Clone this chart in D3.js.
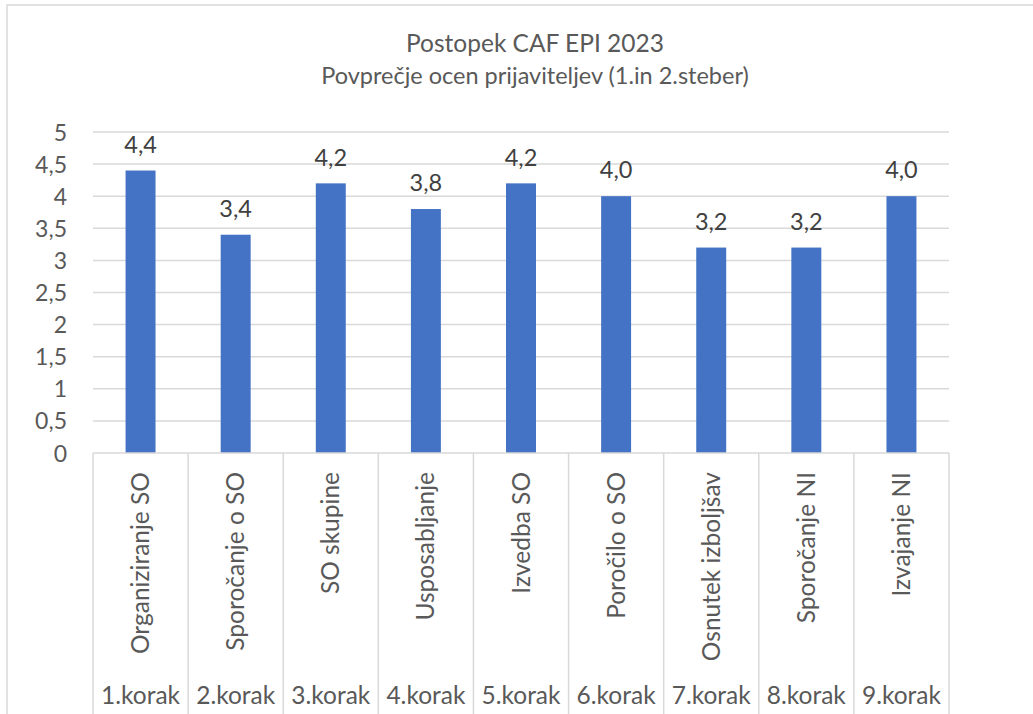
<!DOCTYPE html>
<html>
<head>
<meta charset="utf-8">
<script src="https://cdn.jsdelivr.net/npm/d3@7"></script>
<style>
  html, body { margin: 0; padding: 0; background: #fff; }
  svg { display: block; }
  text { font-family: Lato, "Open Sans", sans-serif; }
</style>
</head>
<body>
<svg id="chart" width="1033" height="714"></svg>
<script>
const titleLines = ["Postopek CAF EPI 2023", "Povprečje ocen prijaviteljev (1.in 2.steber)"];
const categories = ["Organiziranje SO", "Sporočanje o SO", "SO skupine", "Usposabljanje", "Izvedba SO", "Poročilo o SO", "Osnutek izboljšav", "Sporočanje NI", "Izvajanje NI"];
const steps = ["1.korak", "2.korak", "3.korak", "4.korak", "5.korak", "6.korak", "7.korak", "8.korak", "9.korak"];
const values = [4.4, 3.4, 4.2, 3.8, 4.2, 4.0, 3.2, 3.2, 4.0];
const yTicks = [0, 0.5, 1, 1.5, 2, 2.5, 3, 3.5, 4, 4.5, 5];

(function () {
const svg = d3.select("#chart");
const pLeft = 93, pRight = 949, pTop = 132, pBottom = 453;
const grid = "#d9d9d9";
const fmtTick = d => String(d).replace(".", ",");
const fmtVal = d => d3.format(".1f")(d).replace(".", ",");

// outer chart border
svg.append("rect").attr("x", 7).attr("y", 5).attr("width", 1200).attr("height", 800)
  .attr("fill", "none").attr("stroke", grid).attr("stroke-width", 1.5);

const x = d3.scaleBand().domain(categories).range([pLeft, pRight]).paddingInner(0.685).paddingOuter(0.3425);
const xCell = d3.scaleBand().domain(categories).range([pLeft, pRight]).padding(0);
const y = d3.scaleLinear().domain([0, 5]).range([pBottom, pTop]);

// title
svg.append("g").selectAll("text").data(titleLines).join("text")
  .attr("x", 535).attr("y", (d, i) => 52 + i * 32)
  .attr("text-anchor", "middle").attr("fill", "#595959").attr("font-size", (d, i) => i === 0 ? 24.5 : 23.5)
  .text(d => d);

// gridlines
svg.append("g").selectAll("line").data(yTicks.filter(d => d > 0)).join("line")
  .attr("x1", pLeft).attr("x2", pRight).attr("y1", d => y(d)).attr("y2", d => y(d))
  .attr("stroke", grid).attr("stroke-width", 1.5);

// y axis
const yAxis = svg.append("g").attr("transform", `translate(${pLeft},0)`)
  .call(d3.axisLeft(y).tickValues(yTicks).tickFormat(fmtTick).tickSize(0).tickPadding(26));
yAxis.select(".domain").remove();
yAxis.selectAll("text").attr("fill", "#595959").attr("font-size", 23)
  .attr("font-family", "Lato, 'Open Sans', sans-serif").attr("dy", "0.35em");

// bars
svg.append("g").selectAll("rect").data(values).join("rect")
  .attr("x", (d, i) => x(categories[i])).attr("width", x.bandwidth())
  .attr("y", d => y(d)).attr("height", d => y(0) - y(d))
  .attr("fill", "#4472C4");

// data labels
svg.append("g").selectAll("text").data(values).join("text")
  .attr("x", (d, i) => x(categories[i]) + x.bandwidth() / 2)
  .attr("y", d => y(d) - 26).attr("dy", "0.35em")
  .attr("text-anchor", "middle").attr("fill", "#404040").attr("font-size", 23.5)
  .text(fmtVal);

// category axis line
svg.append("line").attr("x1", pLeft).attr("x2", pRight).attr("y1", pBottom).attr("y2", pBottom)
  .attr("stroke", grid).attr("stroke-width", 1.5);

// separators
const bounds = categories.map(c => xCell(c)).concat([pRight]);
svg.append("g").selectAll("line").data(bounds).join("line")
  .attr("x1", d => d).attr("x2", d => d).attr("y1", pBottom).attr("y2", 714)
  .attr("stroke", grid).attr("stroke-width", 1.5);

// rotated category labels
svg.append("g").selectAll("text").data(categories).join("text")
  .attr("transform", d => `translate(${xCell(d) + xCell.bandwidth() / 2},472) rotate(-90)`)
  .attr("text-anchor", "end").attr("dy", "0.35em")
  .attr("fill", "#595959").attr("font-size", 24.5)
  .text(d => d);

// step labels
svg.append("g").selectAll("text").data(steps).join("text")
  .attr("x", (d, i) => xCell(categories[i]) + xCell.bandwidth() / 2)
  .attr("y", 704)
  .attr("text-anchor", "middle").attr("fill", "#595959").attr("font-size", 24.5)
  .text(d => d);
})();
</script>
</body>
</html>
